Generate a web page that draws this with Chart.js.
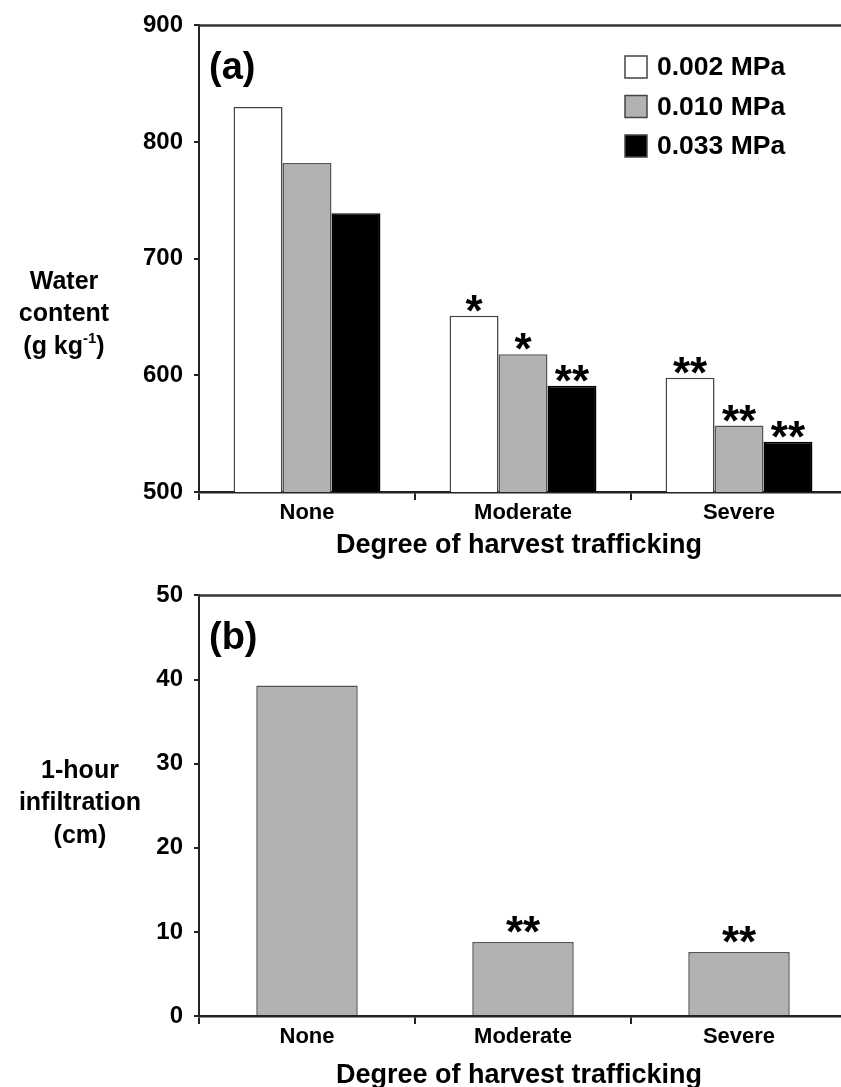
<!DOCTYPE html>
<html>
<head>
<meta charset="utf-8">
<script src="https://cdn.jsdelivr.net/npm/chart.js@4.4.0/dist/chart.umd.min.js"></script>
<style>
  html, body { margin: 0; padding: 0; background: #fff; overflow: hidden; }
  canvas { display: block; }
</style>
</head>
<body>
<canvas id="graficoAgua" width="848" height="570"></canvas>
<canvas id="graficoInfil" width="848" height="517"></canvas>
<script>
// categorias e valores
const categorias = ['None', 'Moderate', 'Severe'];
const agua002 = [830, 651, 598];
const agua010 = [782, 618, 557];
const agua033 = [739, 591, 543];
const estrelas002 = ['', '*', '**'];
const estrelas010 = ['', '*', '**'];
const estrelas033 = ['', '**', '**'];
const aguaTicks = [500, 600, 700, 800, 900];

const infiltracao = [39.3, 8.8, 7.6];
const estrelasInfil = ['', '**', '**'];
const infilTicks = [0, 10, 20, 30, 40, 50];

const FONTE = '"Liberation Sans", Arial, sans-serif';
const CINZA = '#b2b2b2';
const LINHA = '#222';

// desenha textos extras: titulo do eixo y, rótulo do painel, estrelas, legenda
const extrasPlugin = {
    id: 'extras',
    afterDraw(chart, args, opts) {
        const c = chart.ctx;
        const area = chart.chartArea;
        c.save();

        // linha de cima da caixa
        c.strokeStyle = '#333';
        c.lineWidth = 2.5;
        c.beginPath();
        c.moveTo(area.left - 1, area.top);
        c.lineTo(chart.width, area.top);
        c.stroke();

        c.fillStyle = '#000';
        c.textAlign = 'center';
        c.textBaseline = 'middle';

        // rótulo (a) / (b)
        c.font = 'bold 38px ' + FONTE;
        c.textAlign = 'left';
        c.fillText(opts.painel, area.left + 10, area.top + opts.painelDy);

        // título do eixo y (linhas)
        c.font = 'bold 25px ' + FONTE;
        c.textAlign = 'center';
        opts.tituloY.forEach((linha, i) => {
            const y = opts.tituloYTop + i * 32.5;
            if (Array.isArray(linha)) {
                // linha com expoente: [antes, sup, depois]
                const fPeq = 'bold 15px ' + FONTE;
                c.font = 'bold 25px ' + FONTE;
                const w1 = c.measureText(linha[0]).width;
                const w3 = c.measureText(linha[2]).width;
                c.font = fPeq;
                const w2 = c.measureText(linha[1]).width;
                let x = opts.tituloYX - (w1 + w2 + w3) / 2;
                c.textAlign = 'left';
                c.font = 'bold 25px ' + FONTE;
                c.fillText(linha[0], x, y);
                c.font = fPeq;
                c.fillText(linha[1], x + w1, y - 8);
                c.font = 'bold 25px ' + FONTE;
                c.fillText(linha[2], x + w1 + w2, y);
                c.textAlign = 'center';
            } else {
                c.fillText(linha, opts.tituloYX, y);
            }
        });

        // título do eixo x
        c.font = 'bold 27px ' + FONTE;
        c.fillText('Degree of harvest trafficking', 519, opts.tituloXY);

        // estrelas de significância
        c.font = 'bold 44px ' + FONTE;
        c.textBaseline = 'alphabetic';
        chart.data.datasets.forEach((ds, i) => {
            const meta = chart.getDatasetMeta(i);
            meta.data.forEach((bar, j) => {
                const txt = ds.estrelas[j];
                if (!txt) return;
                const m = c.measureText(txt);
                c.fillText(txt, bar.x, bar.y - opts.gapEstrela - m.actualBoundingBoxDescent);
            });
        });

        // legenda
        if (opts.legenda) {
            c.font = 'bold 26.5px ' + FONTE;
            c.textAlign = 'left';
            c.textBaseline = 'middle';
            chart.data.datasets.forEach((ds, i) => {
                const y = 67 + i * 39.5;
                c.fillStyle = ds.backgroundColor;
                c.fillRect(625, y - 11, 22, 22);
                c.strokeStyle = '#444';
                c.lineWidth = 1.5;
                c.strokeRect(625, y - 11, 22, 22);
                c.fillStyle = '#000';
                c.fillText(ds.label, 657, y + 1);
            });
        }
        c.restore();
    }
};

function eixoX(alturaTotal, fundo) {
    return {
        afterFit(scale) { scale.height = alturaTotal - fundo; },
        offset: true,
        grid: {
            offset: true,
            drawOnChartArea: false,
            drawTicks: true,
            tickLength: 8,
            color: LINHA,
            lineWidth: 2
        },
        border: { display: true, color: LINHA, width: 2.5 },
        ticks: {
            padding: 0,
            color: '#000',
            font: { family: FONTE, size: 22, weight: 'bold' }
        }
    };
}

function eixoY(ticks) {
    return {
        min: ticks[0],
        max: ticks[ticks.length - 1],
        afterFit(scale) { scale.width = 199; },
        afterBuildTicks(scale) { scale.ticks = ticks.map(v => ({ value: v })); },
        grid: {
            drawOnChartArea: false,
            drawTicks: true,
            tickLength: 5,
            color: LINHA,
            lineWidth: 2
        },
        border: { display: true, color: LINHA, width: 2 },
        ticks: {
            padding: 11,
            color: '#000',
            font: { family: FONTE, size: 24, weight: 'bold' }
        }
    };
}

// gráfico (a)
new Chart(document.getElementById('graficoAgua'), {
    type: 'bar',
    data: {
        labels: categorias,
        datasets: [
            { label: '0.002 MPa', data: agua002, estrelas: estrelas002, backgroundColor: '#ffffff', borderColor: '#444', borderWidth: 1.5 },
            { label: '0.010 MPa', data: agua010, estrelas: estrelas010, backgroundColor: CINZA, borderColor: '#555', borderWidth: 1.5 },
            { label: '0.033 MPa', data: agua033, estrelas: estrelas033, backgroundColor: '#000000', borderColor: '#000', borderWidth: 1.5 }
        ]
    },
    options: {
        responsive: false,
        animation: false,
        devicePixelRatio: 1,
        categoryPercentage: 0.68,
        barPercentage: 1.0,
        layout: { padding: { top: 24, right: 1, left: 0, bottom: 0 } },
        plugins: {
            legend: { display: false },
            tooltip: { enabled: false },
            extras: {
                painel: '(a)',
                painelDy: 43,
                tituloY: ['Water', 'content', ['(g kg', '-1', ')']],
                tituloYTop: 282,
                tituloYX: 64,
                tituloXY: 546,
                gapEstrela: 4,
                legenda: true
            }
        },
        scales: {
            x: eixoX(570, 492),
            y: eixoY(aguaTicks)
        }
    },
    plugins: [extrasPlugin]
});

// gráfico (b)
new Chart(document.getElementById('graficoInfil'), {
    type: 'bar',
    data: {
        labels: categorias,
        datasets: [
            { label: 'Infiltration', data: infiltracao, estrelas: estrelasInfil, backgroundColor: CINZA, borderColor: '#555', borderWidth: 1.5 }
        ]
    },
    options: {
        responsive: false,
        animation: false,
        devicePixelRatio: 1,
        categoryPercentage: 0.47,
        barPercentage: 1.0,
        layout: { padding: { top: 18, right: 1, left: 0, bottom: 0 } },
        plugins: {
            legend: { display: false },
            tooltip: { enabled: false },
            extras: {
                painel: '(b)',
                painelDy: 43,
                tituloY: ['1-hour', 'infiltration', '(cm)'],
                tituloYTop: 201,
                tituloYX: 80,
                tituloXY: 506,
                gapEstrela: 9,
                legenda: false
            }
        },
        scales: {
            x: eixoX(517, 446),
            y: eixoY(infilTicks)
        }
    },
    plugins: [extrasPlugin]
});
</script>
</body>
</html>
